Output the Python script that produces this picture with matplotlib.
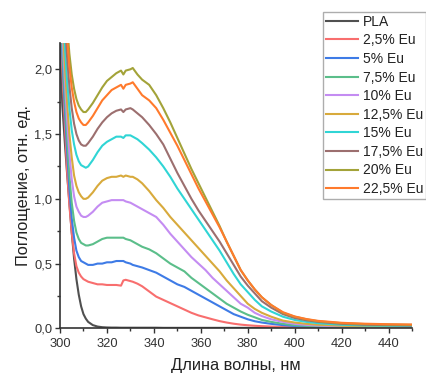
import matplotlib.pyplot as plt
from matplotlib.ticker import MultipleLocator, FuncFormatter

plt.rcParams['font.family'] = ['Liberation Sans', 'DejaVu Sans']

# wavelength grid, nm
wavelength = [300, 301, 302, 303, 304, 305, 306, 307, 308, 309,
              310, 311, 312, 314, 316, 318, 320, 322, 324, 326,
              327, 328, 330, 331, 333, 335, 338, 341, 344, 347,
              350, 353, 356, 359, 362, 365, 368, 371, 374, 377,
              380, 383, 386, 390, 395, 400, 405, 410, 420, 430,
              440, 450]

pla = [2.2, 1.72, 1.45, 1.2, 0.97, 0.74, 0.54, 0.38, 0.26, 0.17,
       0.11, 0.075, 0.05, 0.025, 0.014, 0.009, 0.007, 0.006, 0.006, 0.005,
       0.005, 0.005, 0.005, 0.005, 0.005, 0.005, 0.005, 0.005, 0.004, 0.004,
       0.004, 0.004, 0.004, 0.004, 0.004, 0.004, 0.004, 0.004, 0.004, 0.004,
       0.004, 0.004, 0.004, 0.004, 0.003, 0.003, 0.003, 0.003, 0.003, 0.003,
       0.003, 0.003]

eu_2_5 = [2.4, 2.0, 1.6, 1.22, 0.95, 0.74, 0.58, 0.48, 0.43, 0.40,
          0.38, 0.37, 0.36, 0.35, 0.34, 0.34, 0.335, 0.335, 0.335, 0.33,
          0.37, 0.375, 0.365, 0.36, 0.345, 0.325, 0.285, 0.245, 0.22, 0.195,
          0.17, 0.145, 0.12, 0.10, 0.085, 0.07, 0.056, 0.045, 0.036, 0.029,
          0.024, 0.02, 0.017, 0.014, 0.011, 0.009, 0.008, 0.007, 0.006, 0.005,
          0.005, 0.005]

eu_5 = [2.5, 2.1, 1.72, 1.38, 1.08, 0.85, 0.70, 0.60, 0.55, 0.52,
        0.51, 0.50, 0.49, 0.49, 0.50, 0.50, 0.51, 0.51, 0.52, 0.52,
        0.52, 0.51, 0.50, 0.49, 0.48, 0.47, 0.45, 0.43, 0.40, 0.37,
        0.34, 0.32, 0.29, 0.26, 0.23, 0.20, 0.17, 0.14, 0.11, 0.09,
        0.07, 0.055, 0.045, 0.035, 0.025, 0.018, 0.014, 0.012, 0.009, 0.008,
        0.007, 0.007]

eu_7_5 = [2.6, 2.2, 1.82, 1.48, 1.18, 0.97, 0.83, 0.74, 0.69, 0.66,
          0.65, 0.64, 0.64, 0.65, 0.67, 0.69, 0.70, 0.70, 0.70, 0.70,
          0.70, 0.69, 0.68, 0.67, 0.65, 0.63, 0.61, 0.58, 0.54, 0.50,
          0.47, 0.44, 0.39, 0.35, 0.31, 0.27, 0.23, 0.19, 0.16, 0.13,
          0.105, 0.085, 0.065, 0.05, 0.035, 0.025, 0.02, 0.016, 0.012, 0.01,
          0.01, 0.009]

eu_10 = [2.7, 2.3, 1.95, 1.62, 1.35, 1.15, 1.02, 0.94, 0.90, 0.87,
         0.86, 0.86, 0.87, 0.90, 0.94, 0.97, 0.98, 0.99, 0.99, 0.99,
         0.99, 0.98, 0.97, 0.96, 0.94, 0.92, 0.89, 0.86, 0.80, 0.73,
         0.67, 0.61, 0.55, 0.50, 0.45, 0.39, 0.34, 0.29, 0.24, 0.19,
         0.16, 0.12, 0.095, 0.07, 0.05, 0.035, 0.027, 0.022, 0.016, 0.013,
         0.012, 0.011]

eu_12_5 = [2.8, 2.4, 2.05, 1.75, 1.50, 1.32, 1.18, 1.10, 1.05, 1.02,
           1.00, 1.00, 1.01, 1.05, 1.10, 1.14, 1.16, 1.17, 1.17, 1.18,
           1.17, 1.18, 1.17, 1.17, 1.15, 1.12, 1.06, 0.99, 0.93, 0.86,
           0.80, 0.74, 0.68, 0.62, 0.56, 0.50, 0.44, 0.37, 0.31, 0.25,
           0.19, 0.15, 0.12, 0.09, 0.06, 0.045, 0.035, 0.028, 0.02, 0.016,
           0.014, 0.013]

eu_15 = [2.9, 2.55, 2.2, 1.92, 1.70, 1.53, 1.42, 1.34, 1.29, 1.26,
         1.25, 1.24, 1.25, 1.30, 1.36, 1.41, 1.44, 1.46, 1.48, 1.48,
         1.47, 1.49, 1.49, 1.48, 1.46, 1.43, 1.38, 1.32, 1.25, 1.17,
         1.08, 1.00, 0.92, 0.84, 0.76, 0.68, 0.60, 0.51, 0.42, 0.34,
         0.28, 0.22, 0.17, 0.13, 0.09, 0.065, 0.05, 0.04, 0.028, 0.022,
         0.02, 0.018]

eu_17_5 = [3.1, 2.75, 2.4, 2.1, 1.87, 1.70, 1.58, 1.50, 1.45, 1.42,
           1.41, 1.41, 1.43, 1.48, 1.54, 1.59, 1.63, 1.66, 1.68, 1.69,
           1.67, 1.69, 1.70, 1.69, 1.66, 1.63, 1.57, 1.50, 1.42, 1.31,
           1.20, 1.10, 1.00, 0.91, 0.83, 0.75, 0.67, 0.58, 0.49, 0.40,
           0.33, 0.27, 0.21, 0.16, 0.11, 0.08, 0.062, 0.05, 0.035, 0.028,
           0.025, 0.022]

eu_20 = [3.4, 3.0, 2.65, 2.35, 2.12, 1.96, 1.85, 1.77, 1.72, 1.69,
         1.67, 1.67, 1.69, 1.74, 1.80, 1.86, 1.91, 1.94, 1.97, 1.99,
         1.96, 1.99, 2.00, 2.01, 1.96, 1.92, 1.88, 1.80, 1.70, 1.59,
         1.47, 1.35, 1.23, 1.12, 1.01, 0.90, 0.79, 0.67, 0.56, 0.45,
         0.37, 0.30, 0.24, 0.18, 0.12, 0.09, 0.07, 0.055, 0.04, 0.033,
         0.03, 0.027]

eu_22_5 = [3.3, 2.9, 2.55, 2.25, 2.02, 1.86, 1.75, 1.67, 1.62, 1.59,
           1.57, 1.57, 1.59, 1.64, 1.70, 1.76, 1.80, 1.84, 1.86, 1.88,
           1.85, 1.88, 1.89, 1.90, 1.85, 1.80, 1.76, 1.70, 1.61, 1.51,
           1.41, 1.30, 1.19, 1.08, 0.98, 0.88, 0.78, 0.67, 0.56, 0.45,
           0.37, 0.30, 0.24, 0.18, 0.125, 0.092, 0.072, 0.058, 0.043, 0.036,
           0.032, 0.03]

labels = ['PLA', '2,5% Eu', '5% Eu', '7,5% Eu', '10% Eu', '12,5% Eu',
          '15% Eu', '17,5% Eu', '20% Eu', '22,5% Eu']
series = [pla, eu_2_5, eu_5, eu_7_5, eu_10, eu_12_5,
          eu_15, eu_17_5, eu_20, eu_22_5]
colors = ['#505050', '#F86E6E', '#3E7BE6', '#5BBE8A', '#C48CF2', '#D8AA3C',
          '#30D5D5', '#9C6F6F', '#A3A339', '#FF7A2C']

fig = plt.figure(figsize=(4.27, 3.74), dpi=100)
ax = fig.add_axes([0.1405, 0.122, 0.8245, 0.762])

for y, c, lab in zip(series, colors, labels):
    ax.plot(wavelength, y, color=c, lw=1.5, label=lab)

ax.set_xlim(300, 450)
ax.set_ylim(0, 2.2)
ax.xaxis.set_major_locator(MultipleLocator(20))
ax.xaxis.set_minor_locator(MultipleLocator(10))
ax.yaxis.set_major_locator(MultipleLocator(0.5))
ax.yaxis.set_minor_locator(MultipleLocator(0.25))
ax.yaxis.set_major_formatter(FuncFormatter(lambda v, p: f'{v:.1f}'.replace('.', ',')))

for s in ['top', 'right']:
    ax.spines[s].set_visible(False)
for s in ['left', 'bottom']:
    ax.spines[s].set_linewidth(1.2)
    ax.spines[s].set_color('#333333')
ax.tick_params(which='major', direction='out', length=3.6, width=1, colors='#333333',
               labelsize=9.3, labelcolor='#333333', pad=2)
ax.tick_params(axis='x', which='major', pad=3.5)
ax.tick_params(which='minor', direction='out', length=2.2, width=1, colors='#333333')

ax.set_xlabel('Длина волны, нм', fontsize=11.8, color='#222222', labelpad=5.5)
ax.set_ylabel('Поглощение, отн. ед.', fontsize=11.8, color='#222222', labelpad=2)

leg = ax.legend(loc='upper left', bbox_to_anchor=(323 / 427, 1 - 12 / 374),
                bbox_transform=fig.transFigure, fontsize=10, frameon=True,
                fancybox=False, handlelength=2.3, handletextpad=0.36,
                labelspacing=0.33, borderpad=0.2, borderaxespad=0)
leg.get_frame().set_edgecolor('#999999')
leg.get_frame().set_linewidth(1.0)
for t in leg.get_texts():
    t.set_color('#222222')

fig.savefig('out.png', dpi=100)
